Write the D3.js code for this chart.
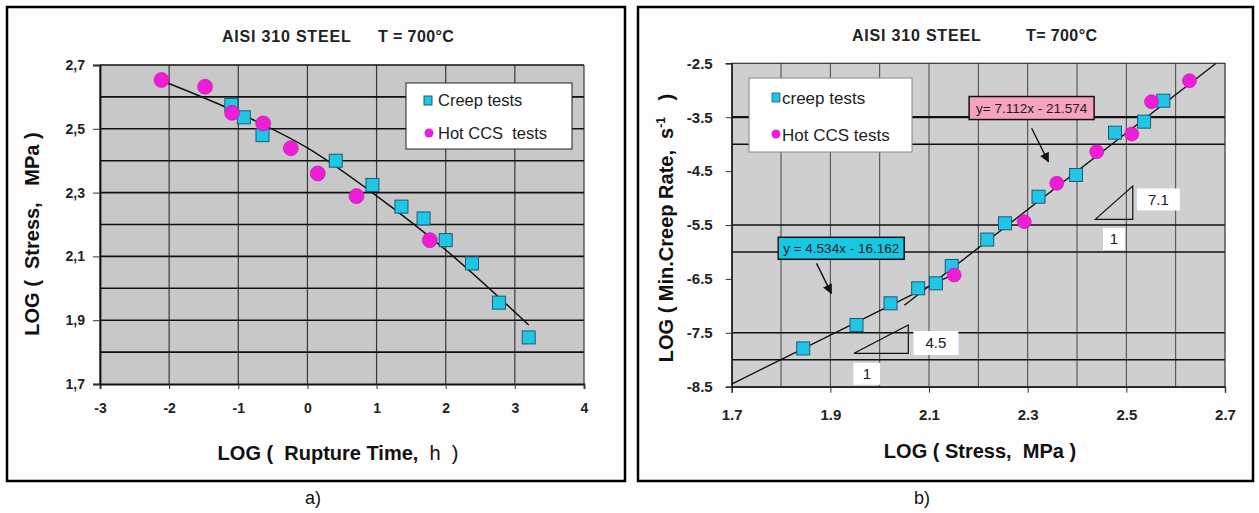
<!DOCTYPE html>
<html>
<head>
<meta charset="utf-8">
<script src="https://cdn.jsdelivr.net/npm/d3@7"></script>
<style>
  body { margin: 0; background: #fff; }
  svg text { font-family: Arial, "Liberation Sans", sans-serif; white-space: pre; }
</style>
</head>
<body>
<div id="fig"></div>
<script>
"use strict"

// panel a) rupture time vs stress
var creepA_logt = [-1.10, -0.92, -0.65, 0.41, 0.94, 1.36, 1.68, 2.00, 2.38, 2.77, 3.20]
var creepA_logs = [2.575, 2.536, 2.48, 2.40, 2.324, 2.256, 2.219, 2.151, 2.078, 1.955, 1.846]
var ccsA_logt = [-2.11, -1.48, -1.09, -0.64, -0.24, 0.15, 0.71, 1.77]
var ccsA_logs = [2.653, 2.632, 2.55, 2.517, 2.439, 2.36, 2.289, 2.151]
// trend curve
var fitA_x = [-2.04, -1.0, 0.0, 1.0, 2.0, 3.2]
var fitA_y = [2.645, 2.55, 2.44, 2.29, 2.12, 1.885]
var xTicksA = [-3, -2, -1, 0, 1, 2, 3, 4]
var yTicksA = [1.7, 1.9, 2.1, 2.3, 2.5, 2.7]
var yGridA = [1.8, 1.9, 2.0, 2.1, 2.2, 2.3, 2.4, 2.5, 2.6, 2.7]

// panel b) stress vs min creep rate
var creepB_x = [1.845, 1.953, 2.022, 2.078, 2.114, 2.146, 2.218, 2.254, 2.322, 2.398, 2.477, 2.536, 2.575]
var creepB_y = [-7.79, -7.355, -6.953, -6.674, -6.582, -6.26, -5.77, -5.468, -4.975, -4.572, -3.787, -3.583, -3.194]
var ccsB_x = [2.151, 2.293, 2.359, 2.44, 2.511, 2.551, 2.628]
var ccsB_y = [-6.428, -5.438, -4.726, -4.14, -3.812, -3.212, -2.823]
var fitLowB = [[1.70, -8.45], [2.15, -6.41]]
var fitHighB = [[2.05, -6.99], [2.682, -2.5]]
var xTicksB = [1.7, 1.9, 2.1, 2.3, 2.5, 2.7]
var xGridB = [1.8, 1.9, 2.0, 2.1, 2.2, 2.3, 2.4, 2.5, 2.6]
var yTicksB = [-2.5, -3.5, -4.5, -5.5, -6.5, -7.5, -8.5]
var yGridB = [-3.5, -4.0, -5.5, -6.0, -7.5, -8.0]

var CYAN = "#1fc6e6", MAGENTA = "#ee1ed8"

// plain hyphen instead of the unicode minus d3 uses
function fmt(spec, comma) {
    var f = d3.format(spec)
    return function (d) {
        var s = f(d).replace("\u2212", "-")
        return comma ? s.replace(".", ",") : s
    }
}

var svg = d3.select("#fig").append("svg")
    .attr("width", 1259)
    .attr("height", 513)

svg.append("rect").attr("width", 1259).attr("height", 513).attr("fill", "#fff")

// outer frames
svg.append("rect").attr("x", 7).attr("y", 7).attr("width", 618).attr("height", 474)
    .attr("fill", "#fdfdfd").attr("stroke", "#000").attr("stroke-width", 2.5)
svg.append("rect").attr("x", 638).attr("y", 7).attr("width", 615).attr("height", 474)
    .attr("fill", "#fdfdfd").attr("stroke", "#000").attr("stroke-width", 2.5)

function square(g, sx, sy, xs, ys, size) {
    g.selectAll(null).data(xs).enter().append("rect")
        .attr("x", function (d) { return sx(d) - size / 2 })
        .attr("y", function (d, i) { return sy(ys[i]) - size / 2 })
        .attr("width", size).attr("height", size)
        .attr("fill", CYAN).attr("stroke", "#1d5a78").attr("stroke-width", 1)
}

function circle(g, sx, sy, xs, ys, r) {
    g.selectAll(null).data(xs).enter().append("circle")
        .attr("cx", function (d) { return sx(d) })
        .attr("cy", function (d, i) { return sy(ys[i]) })
        .attr("r", r)
        .attr("fill", MAGENTA).attr("stroke", "#c010b0").attr("stroke-width", 0.6)
}

function title(g, x1, x2, y, left, right) {
    g.append("text").attr("x", x1).attr("y", y).attr("font-size", 16).attr("font-weight", "bold")
        .attr("letter-spacing", 0.8).attr("fill", "#222").text(left)
    g.append("text").attr("x", x2).attr("y", y).attr("font-size", 16).attr("font-weight", "bold")
        .attr("letter-spacing", 0.4).attr("fill", "#222").text(right)
}

/**
 panel a)
*/
var ga = svg.append("g")
var xA = d3.scaleLinear().domain([-3, 4]).range([100, 584])
var yA = d3.scaleLinear().domain([1.7, 2.7]).range([384, 65])

ga.append("rect").attr("x", 100).attr("y", 65).attr("width", 484).attr("height", 319)
    .attr("fill", "#c8c8c8")

ga.selectAll("line.vg").data(xTicksA).enter().append("line")
    .attr("x1", function (d) { return xA(d) }).attr("x2", function (d) { return xA(d) })
    .attr("y1", 65).attr("y2", 384)
    .attr("stroke", "#3a3a3a").attr("stroke-width", 1.2)

ga.selectAll("line.hg").data(yGridA).enter().append("line")
    .attr("x1", 100).attr("x2", 584)
    .attr("y1", function (d) { return yA(d) }).attr("y2", function (d) { return yA(d) })
    .attr("stroke", "#111").attr("stroke-width", 1.6)

// axes
var axA_x = ga.append("g").attr("transform", "translate(0,384)")
    .call(d3.axisBottom(xA).tickValues(xTicksA).tickSize(5).tickPadding(14).tickFormat(fmt("d")))
var axA_y = ga.append("g").attr("transform", "translate(100,0)")
    .call(d3.axisLeft(yA).tickValues(yTicksA).tickSize(7).tickPadding(8).tickFormat(fmt(".1f", true)))
;[axA_x, axA_y].forEach(function (ax) {
    ax.select(".domain").attr("stroke", "#111").attr("stroke-width", 1.8)
    ax.selectAll(".tick line").attr("stroke", "#333")
    ax.selectAll("text").attr("font-size", 14).attr("font-weight", "bold").attr("fill", "#222")
        .attr("font-family", "Arial, 'Liberation Sans', sans-serif")
})

var lineA = d3.line().x(function (d) { return xA(d[0]) }).y(function (d) { return yA(d[1]) })
    .curve(d3.curveMonotoneX)
ga.append("path").attr("d", lineA(d3.zip(fitA_x, fitA_y)))
    .attr("fill", "none").attr("stroke", "#111").attr("stroke-width", 1.5)

square(ga, xA, yA, creepA_logt, creepA_logs, 13)
circle(ga, xA, yA, ccsA_logt, ccsA_logs, 7.5)

// legend a
ga.append("rect").attr("x", 406).attr("y", 83).attr("width", 166).attr("height", 66)
    .attr("fill", "#fff").attr("stroke", "#222").attr("stroke-width", 1)
ga.append("rect").attr("x", 424).attr("y", 96).attr("width", 8).attr("height", 9)
    .attr("fill", CYAN).attr("stroke", "#1d5a78").attr("stroke-width", 1)
ga.append("circle").attr("cx", 429).attr("cy", 133).attr("r", 4.5).attr("fill", MAGENTA)
ga.append("text").attr("x", 438).attr("y", 106).attr("font-size", 16.5).attr("fill", "#222").text("Creep tests")
ga.append("text").attr("x", 438).attr("y", 139).attr("font-size", 16.5).attr("fill", "#222").text("Hot CCS  tests")

title(ga, 222, 378, 42, "AISI 310 STEEL", "T = 700°C")

var xtA = ga.append("text").attr("x", 338).attr("y", 460).attr("text-anchor", "middle")
    .attr("font-size", 20).attr("font-weight", "bold").attr("fill", "#111")
xtA.append("tspan").text("LOG (  Rupture Time,  ")
xtA.append("tspan").attr("font-weight", "normal").text("h  )")

ga.append("text").attr("transform", "translate(39,234) rotate(-90)").attr("text-anchor", "middle")
    .attr("font-size", 20).attr("font-weight", "bold").attr("fill", "#111")
    .text("LOG (  Stress,   MPa )")

svg.append("text").attr("x", 313).attr("y", 504).attr("text-anchor", "middle")
    .attr("font-size", 18).attr("fill", "#111").text("a)")

/**
 panel b)
*/
var gb = svg.append("g")
var xB = d3.scaleLinear().domain([1.7, 2.7]).range([731.7, 1225])
var yB = d3.scaleLinear().domain([-8.5, -2.5]).range([386.7, 63.3])

gb.append("rect").attr("x", 731.7).attr("y", 63.3).attr("width", 493.3).attr("height", 323.4)
    .attr("fill", "#cfcfcf")

gb.selectAll("line.vg").data(xGridB).enter().append("line")
    .attr("x1", function (d) { return xB(d) }).attr("x2", function (d) { return xB(d) })
    .attr("y1", 63.3).attr("y2", 386.7)
    .attr("stroke", "#444").attr("stroke-width", 1)

gb.selectAll("line.hg").data(yGridB).enter().append("line")
    .attr("x1", 731.7).attr("x2", 1225)
    .attr("y1", function (d) { return yB(d) }).attr("y2", function (d) { return yB(d) })
    .attr("stroke", "#111").attr("stroke-width", function (d) { return d === -3.5 ? 2.2 : 1.5 })

gb.append("rect").attr("x", 731.7).attr("y", 63.3).attr("width", 493.3).attr("height", 323.4)
    .attr("fill", "none").attr("stroke", "#333").attr("stroke-width", 1.2)

var axB_x = gb.append("g").attr("transform", "translate(0,386.7)")
    .call(d3.axisBottom(xB).tickValues(xTicksB).tickSize(6).tickPadding(17).tickFormat(fmt(".1f")))
var axB_y = gb.append("g").attr("transform", "translate(731.7,0)")
    .call(d3.axisLeft(yB).tickValues(yTicksB).tickSize(6).tickPadding(13).tickFormat(fmt(".1f")))
;[axB_x, axB_y].forEach(function (ax) {
    ax.select(".domain").attr("stroke", "#222").attr("stroke-width", 1.4)
    ax.selectAll(".tick line").attr("stroke", "#333")
    ax.selectAll("text").attr("font-size", 15).attr("font-weight", "bold").attr("fill", "#222")
        .attr("font-family", "Arial, 'Liberation Sans', sans-serif")
})

var lineB = d3.line().x(function (d) { return xB(d[0]) }).y(function (d) { return yB(d[1]) })
gb.append("path").attr("d", lineB(fitLowB)).attr("fill", "none").attr("stroke", "#111").attr("stroke-width", 1.4)
gb.append("path").attr("d", lineB(fitHighB)).attr("fill", "none").attr("stroke", "#111").attr("stroke-width", 1.4)

square(gb, xB, yB, creepB_x, creepB_y, 13)
circle(gb, xB, yB, ccsB_x, ccsB_y, 7)

// slope triangles (data units)
var tri1 = [[1.948, -7.88], [2.058, -7.88], [2.058, -7.355]]
var tri2 = [[2.437, -5.394], [2.513, -5.394], [2.513, -4.776]]
;[tri1, tri2].forEach(function (t) {
    gb.append("path").attr("d", lineB(t) + "Z").attr("fill", "none")
        .attr("stroke", "#111").attr("stroke-width", 1.2)
})

function labelBox(cx, cy, w, h, txt, fill, size) {
    var x = xB(cx), y = yB(cy)
    gb.append("rect").attr("x", x - w / 2).attr("y", y - h / 2).attr("width", w).attr("height", h)
        .attr("fill", fill).attr("stroke", fill === "#fff" ? "none" : "#111").attr("stroke-width", 1.5)
    gb.append("text").attr("x", x).attr("y", y + size * 0.36).attr("text-anchor", "middle")
        .attr("font-size", size).attr("fill", "#1a1a2a").text(txt)
}

labelBox(2.114, -7.69, 45, 24, "4.5", "#fff", 15)
labelBox(1.974, -8.26, 27, 22, "1", "#fff", 15)
labelBox(2.565, -5.027, 43, 22, "7.1", "#fff", 15)
labelBox(2.475, -5.76, 22, 22, "1", "#fff", 15)
labelBox(1.922, -5.932, 126, 22, "y = 4.534x - 16.162", "#16c8e4", 13.5)
labelBox(2.308, -3.33, 125, 23, "y= 7.112x - 21.574", "#f7a3bd", 13.5)

// arrows
var defs = svg.append("defs")
defs.append("marker").attr("id", "arr").attr("viewBox", "0 0 10 10").attr("refX", 9).attr("refY", 5)
    .attr("markerWidth", 7).attr("markerHeight", 7).attr("orient", "auto")
    .append("path").attr("d", "M0,0 L10,5 L0,10 Z").attr("fill", "#111")
var arrows = [[[1.872, -6.211], [1.902, -6.768]], [[2.308, -3.706], [2.342, -4.326]]]
arrows.forEach(function (a) {
    gb.append("path").attr("d", lineB(a)).attr("stroke", "#111").attr("stroke-width", 1.4)
        .attr("fill", "none").attr("marker-end", "url(#arr)")
})

// legend b
gb.append("rect").attr("x", 749).attr("y", 78).attr("width", 163).attr("height", 74)
    .attr("fill", "#fff").attr("stroke", "#888").attr("stroke-width", 1)
gb.append("rect").attr("x", 772).attr("y", 93).attr("width", 8).attr("height", 9)
    .attr("fill", CYAN).attr("stroke", "#1d5a78").attr("stroke-width", 0.8)
gb.append("circle").attr("cx", 776).attr("cy", 134).attr("r", 4.5).attr("fill", MAGENTA)
gb.append("text").attr("x", 782).attr("y", 104).attr("font-size", 17).attr("fill", "#222").text("creep tests")
gb.append("text").attr("x", 782).attr("y", 141).attr("font-size", 17).attr("fill", "#222").text("Hot CCS tests")

title(gb, 852, 1026, 41, "AISI 310 STEEL", "T= 700°C")

gb.append("text").attr("x", 980).attr("y", 458).attr("text-anchor", "middle")
    .attr("font-size", 20).attr("font-weight", "bold").attr("fill", "#111")
    .text("LOG ( Stress,  MPa )")

var ytB = gb.append("text").attr("transform", "translate(673,228) rotate(-90)").attr("text-anchor", "middle")
    .attr("font-size", 20).attr("font-weight", "bold").attr("fill", "#111")
ytB.append("tspan").text("LOG ( Min.Creep Rate,  s")
ytB.append("tspan").attr("font-size", 12).attr("dy", -8).text("-1")
ytB.append("tspan").attr("dy", 8).text("   )")

svg.append("text").attr("x", 922).attr("y", 504).attr("text-anchor", "middle")
    .attr("font-size", 18).attr("fill", "#111").text("b)")
</script>
</body>
</html>
